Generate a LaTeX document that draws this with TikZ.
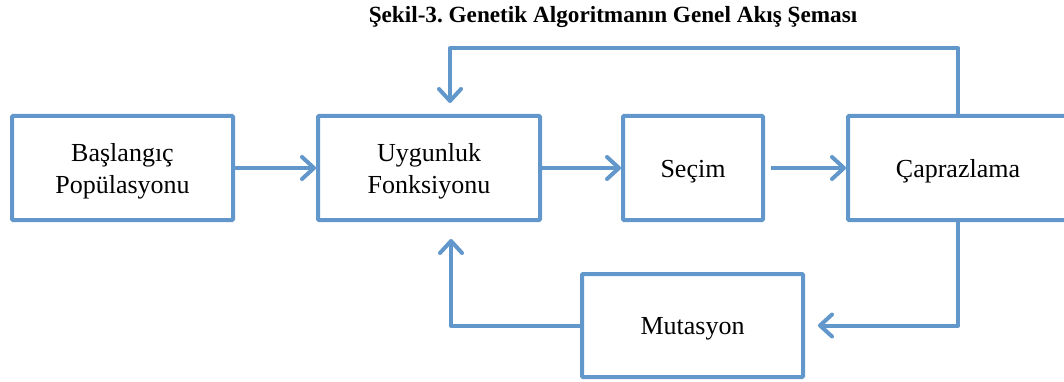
\documentclass[tikz,border=0pt]{standalone}
\usepackage{fontspec}
\setmainfont{Liberation Serif}
\usetikzlibrary{arrows.meta}
\definecolor{flow}{RGB}{98,151,203}
\newcommand\boxtext[1]{\raisebox{-3pt}[\height][\depth]{\begin{tabular}{@{}c@{}}#1\end{tabular}}}
\frenchspacing
\begin{document}
\begin{tikzpicture}[x=1pt,y=-1pt,
  box/.style={draw=flow, line width=4pt, rounded corners=1pt, inner sep=0pt,
    font=\fontsize{26}{32}\selectfont},
  conn/.style={draw=flow, line width=4pt, line join=round,
    -{Straight Barb[length=12pt,width=22pt,line cap=round,line join=round]}}]
\useasboundingbox (0,0) rectangle (1064,382);
\clip (0,0) rectangle (1064,382);
\node (title) at (613,17) {\bfseries\fontsize{23.2}{25}\selectfont Şekil-3. Genetik Algoritmanın Genel Akış Şeması};
\node[box, minimum width=221pt, minimum height=104pt] (b1) at (122.5,168) {\boxtext{Başlangıç\\Popülasyonu}};
\node[box, minimum width=222pt, minimum height=104pt] (b2) at (429,168) {\boxtext{Uygunluk\\Fonksiyonu}};
\node[box, minimum width=140pt, minimum height=104pt] (sec) at (693,168) {\boxtext{Seçim}};
\node[box, minimum width=220pt, minimum height=104pt] (cap) at (958,168) {\boxtext{Çaprazlama}};
\node[box, minimum width=221pt, minimum height=103pt] (mut) at (692.5,325.5) {\boxtext{Mutasyon}};
\coordinate (t1) at (450,48);
\coordinate (t2) at (450,103);
\coordinate (l1) at (451,239);
\draw[conn] (b1.east) -- (b2.west);
\draw[conn] (b2.east) -- (sec.west);
\draw[conn] ([xshift=6pt]sec.east) -- (cap.west);
\draw[conn] (cap.north) |- (t1) -- (t2);
\draw[conn, shorten >=13pt] (cap.south) |- (mut.east);
\draw[conn] (mut.west) -| (l1);
\end{tikzpicture}
\end{document}
